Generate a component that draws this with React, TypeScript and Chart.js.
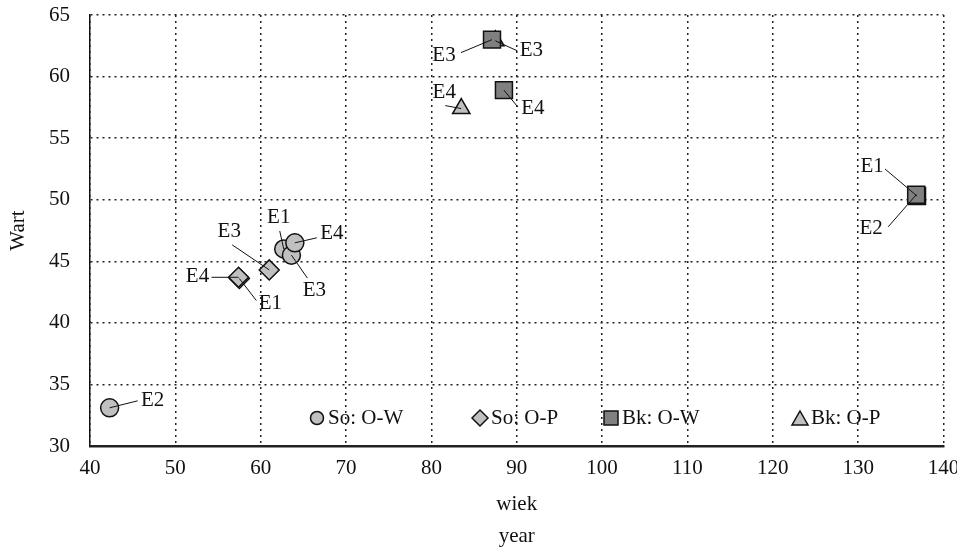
import React, { useEffect, useRef } from 'react';
import { Chart, registerables } from 'chart.js';

Chart.register(...registerables);

// ---- data ----
const seriesNames = ['So: O-W', 'So: O-P', 'Bk: O-W', 'Bk: O-P'];

const soOW_x = [62.7, 42.3, 63.6, 64.0];
const soOW_y = [46.0, 33.1, 45.5, 46.5];
const soOW_labels = ['E1', 'E2', 'E3', 'E4'];

const soOP_x = [57.5, 61.0, 57.4];
const soOP_y = [43.6, 44.3, 43.7];
const soOP_labels = ['E1', 'E3', 'E4'];

const bkOW_x = [136.9, 136.8, 87.1, 88.5];
const bkOW_y = [50.3, 50.4, 63.0, 58.9];
const bkOW_labels = ['E1', 'E2', 'E3', 'E4'];

const bkOP_x = [87.5, 83.5];
const bkOP_y = [62.9, 57.4];
const bkOP_labels = ['E3', 'E4'];

const xTickValues = [40, 50, 60, 70, 80, 90, 100, 110, 120, 130, 140];
const yTickValues = [30, 35, 40, 45, 50, 55, 60, 65];
const xTitle = ['wiek', 'year'];
const yTitle = 'Wart';

// ---- layout of annotations (pixel offsets: label dx, dy, leader end dx, dy) ----
const labelOffsets = [
  [[-5, -31, -4, -18], [43, -7, 28, -7], [23, 35, 16, 23], [37, -9, 22, -5]],
  [[31, 25, 17, 22], [-40, -38, -37, -25], [-41, -1, -27, 0]],
  [[-45, -30, -32, -27], [-45, 34, -28, 32], [-48, 16, -31, 13], [29, 18, 14, 17]],
  [[36, 10, 22, 10], [-17, -16, -16, -3]],
];
const legendMarkerX = [317, 480, 611, 800];

const FONT = '"Liberation Serif", "Times New Roman", serif';
const FS = 21;
const LIGHT = '#c0c0c0';
const DARK = '#808080';

const zip = (xs: number[], ys: number[]) => xs.map((x, i) => ({ x, y: ys[i] }));

function drawMarker(ctx: CanvasRenderingContext2D, style: string, x: number, y: number, r: number, fill: string) {
  ctx.beginPath();
  if (style === 'circle') {
    ctx.arc(x, y, r, 0, Math.PI * 2);
  } else if (style === 'rectRot') {
    ctx.moveTo(x - r, y);
    ctx.lineTo(x, y - r);
    ctx.lineTo(x + r, y);
    ctx.lineTo(x, y + r);
    ctx.closePath();
  } else if (style === 'rect') {
    ctx.rect(x - r, y - r, 2 * r, 2 * r);
  } else if (style === 'triangle') {
    const h = r * 1.75;
    ctx.moveTo(x, y - h / 2);
    ctx.lineTo(x + r, y + h / 2);
    ctx.lineTo(x - r, y + h / 2);
    ctx.closePath();
  }
  ctx.fillStyle = fill;
  ctx.fill();
  ctx.lineWidth = 1.5;
  ctx.strokeStyle = '#111';
  ctx.stroke();
}

const annotationPlugin = {
  id: 'annotations',
  afterDatasetsDraw(chart: any) {
    const ctx: CanvasRenderingContext2D = chart.ctx;
    ctx.save();
    ctx.font = `${FS}px ${FONT}`;
    ctx.textAlign = 'center';
    ctx.textBaseline = 'middle';
    chart.data.datasets.forEach((ds: any, di: number) => {
      const meta = chart.getDatasetMeta(di);
      meta.data.forEach((el: any, i: number) => {
        const off = labelOffsets[di][i];
        ctx.beginPath();
        ctx.lineWidth = 1;
        ctx.strokeStyle = '#111';
        ctx.moveTo(el.x, el.y);
        ctx.lineTo(el.x + off[2], el.y + off[3]);
        ctx.stroke();
        ctx.fillStyle = '#111';
        ctx.fillText(ds.pointLabels[i], el.x + off[0], el.y + off[1]);
      });
    });
    // legend inside the plot area
    const ly = chart.chartArea.bottom - 28;
    const styles = ['circle', 'rectRot', 'rect', 'triangle'];
    const sizes = [6.5, 8, 7, 8];
    const fills = [LIGHT, LIGHT, DARK, LIGHT];
    ctx.textAlign = 'left';
    seriesNames.forEach((name, i) => {
      drawMarker(ctx, styles[i], legendMarkerX[i], ly, sizes[i], fills[i]);
      ctx.fillStyle = '#111';
      ctx.fillText(name, legendMarkerX[i] + 11, ly);
    });
    ctx.restore();
  },
};

export default function App() {
  const ref = useRef<HTMLCanvasElement>(null);
  useEffect(() => {
    if (!ref.current) return;
    const grid = {
      color: '#222',
      lineWidth: 1.5,
      drawTicks: false,
    };
    const chart = new Chart(ref.current, {
      type: 'scatter',
      data: {
        datasets: [
          {
            label: seriesNames[0],
            data: zip(soOW_x, soOW_y),
            pointLabels: soOW_labels,
            pointStyle: 'circle',
            pointRadius: 9,
            backgroundColor: LIGHT,
            borderColor: '#111',
            borderWidth: 1.5,
          },
          {
            label: seriesNames[1],
            data: zip(soOP_x, soOP_y),
            pointLabels: soOP_labels,
            pointStyle: 'rectRot',
            pointRadius: 10,
            backgroundColor: LIGHT,
            borderColor: '#111',
            borderWidth: 1.5,
          },
          {
            label: seriesNames[2],
            data: zip(bkOW_x, bkOW_y),
            pointLabels: bkOW_labels,
            pointStyle: 'rect',
            pointRadius: 12,
            backgroundColor: DARK,
            borderColor: '#111',
            borderWidth: 1.5,
          },
          {
            label: seriesNames[3],
            data: zip(bkOP_x, bkOP_y),
            pointLabels: bkOP_labels,
            pointStyle: 'triangle',
            pointRadius: 10,
            backgroundColor: LIGHT,
            borderColor: '#111',
            borderWidth: 1.5,
          },
        ] as any,
      },
      options: {
        animation: false,
        responsive: true,
        maintainAspectRatio: false,
        devicePixelRatio: 1,
        layout: { padding: 0 },
        plugins: {
          legend: { display: false },
          tooltip: { enabled: false },
        },
        scales: {
          x: {
            type: 'linear',
            min: 40,
            max: 140,
            afterBuildTicks: (s: any) => {
              s.ticks = xTickValues.map((v) => ({ value: v }));
            },
            afterFit: (s: any) => {
              s.height = 106;
              s.paddingRight = 12;
              s.paddingLeft = 0;
            },
            grid: { ...grid } as any,
            border: { display: true, color: '#222', width: 2.5, dash: [2, 4] } as any,
            ticks: {
              padding: 10,
              color: '#111',
              font: { family: FONT, size: FS },
              maxRotation: 0,
            },
            title: {
              display: true,
              text: xTitle,
              color: '#111',
              font: { family: FONT, size: FS, lineHeight: 1.52 },
              padding: { top: 0, bottom: 0 },
            },
          },
          y: {
            type: 'linear',
            min: 30,
            max: 65,
            afterBuildTicks: (s: any) => {
              s.ticks = yTickValues.map((v) => ({ value: v }));
            },
            afterFit: (s: any) => {
              s.width = 90;
              s.paddingTop = 15;
            },
            grid: { ...grid } as any,
            border: { display: true, color: '#111', width: 1.5, dash: [2, 4] } as any,
            ticks: {
              padding: 20,
              color: '#111',
              font: { family: FONT, size: FS },
            },
            title: {
              display: true,
              text: yTitle,
              color: '#111',
              font: { family: FONT, size: FS },
              padding: { top: 6, bottom: 0 },
            },
          },
        },
      } as any,
      plugins: [annotationPlugin],
    });
    return () => chart.destroy();
  }, []);
  return (
    <div style={{ position: 'fixed', left: 0, top: 0, width: 957, height: 552, background: '#fff' }}>
      <canvas ref={ref} />
    </div>
  );
}
